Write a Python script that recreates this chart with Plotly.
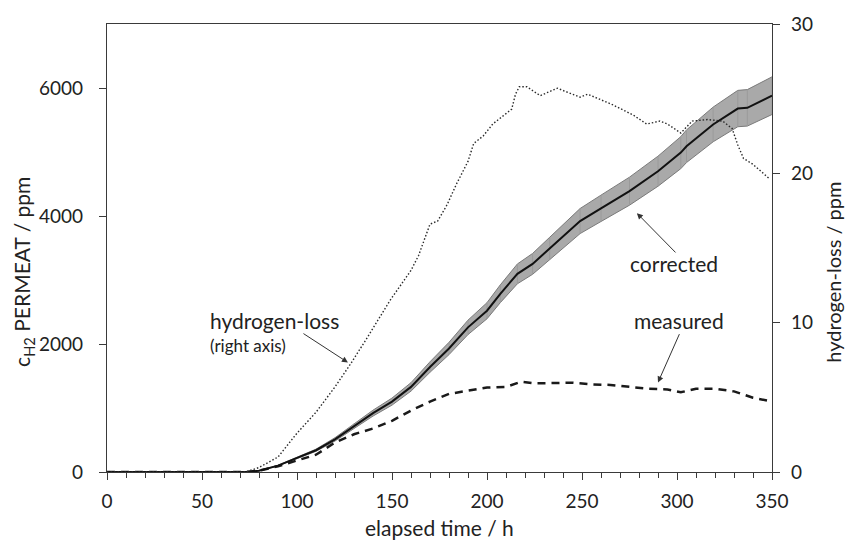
import plotly.graph_objects as go

# ---------------- data ----------------
t_corr = [0, 73, 80, 90, 100, 110, 120, 130, 140, 150, 160, 170, 180, 190, 200,
          207, 216, 224, 233, 249, 260, 275, 290, 302, 305, 319, 332, 337, 350]
corrected = [0, 0, 20, 100, 220, 340, 510, 720, 920, 1100, 1330, 1640, 1930, 2260, 2520,
             2785, 3096, 3252, 3490, 3921, 4120, 4388, 4700, 4990, 5090, 5430, 5679, 5690, 5880]
corr_err = [0, 0, 1, 5, 11, 17, 26, 36, 46, 55, 66, 82, 96, 113, 126,
            139, 155, 163, 174, 196, 206, 219, 235, 250, 255, 271, 284, 285, 294]

t_meas = [0, 73, 80, 90, 100, 110, 120, 130, 140, 150, 160, 170, 180, 190, 200, 210,
          218, 225, 235, 245, 255, 265, 275, 285, 295, 302, 310, 320, 330, 340, 350]
measured = [0, 0, 20, 90, 180, 270, 460, 590, 680, 800, 960, 1100, 1220, 1275, 1320, 1330,
            1410, 1385, 1395, 1395, 1370, 1360, 1330, 1300, 1290, 1245, 1300, 1300, 1260, 1160, 1100]

t_hloss = [0, 73, 80, 90, 100, 110, 120, 128, 137, 149, 160, 164, 170, 174, 179, 184, 190,
           193, 198, 203, 210, 213, 215, 217, 221, 228, 237, 249, 253, 266, 277, 284, 291,
           295, 302, 308, 316, 324, 329, 332, 335, 340, 349]
hloss = [0, 0, 0.3, 1.0, 2.6, 4.0, 5.7, 7.2, 9.0, 11.5, 13.5, 14.5, 16.6, 16.8, 17.9, 19.3, 20.8,
         22.0, 22.5, 23.3, 24.0, 24.3, 25.3, 25.8, 25.8, 25.2, 25.7, 25.1, 25.3, 24.6, 23.9, 23.3, 23.5,
         23.3, 22.7, 23.5, 23.6, 23.5, 23.0, 21.9, 21.0, 20.6, 19.6]

x_ticks = [0, 50, 100, 150, 200, 250, 300, 350]
y_ticks = [0, 2000, 4000, 6000]
y2_ticks = [0, 10, 20, 30]

# ---------------- figure ----------------
FONT = "Lato"
AX = "#3a3a3a"
upper = [v + e for v, e in zip(corrected, corr_err)]
lower = [v - e for v, e in zip(corrected, corr_err)]

fig = go.Figure()
fig.add_trace(go.Scatter(x=t_corr, y=upper, mode="lines",
                         line=dict(color="#7a7a7a", width=1), hoverinfo="skip", showlegend=False))
fig.add_trace(go.Scatter(x=t_corr, y=lower, mode="lines", fill="tonexty",
                         fillcolor="#a9a9a9",
                         line=dict(color="#7a7a7a", width=1), hoverinfo="skip", showlegend=False))
fig.add_trace(go.Scatter(x=t_corr, y=corrected, mode="lines",
                         line=dict(color="rgba(0,0,0,0)", width=0),
                         error_y=dict(type="data", array=corr_err, color="#9a9a9a",
                                      thickness=1, width=0),
                         showlegend=False))
fig.add_trace(go.Scatter(x=t_meas, y=measured, mode="lines",
                         line=dict(color="#1a1a1a", width=2.5, dash="8px,6px"),
                         showlegend=False))
fig.add_trace(go.Scatter(x=t_hloss, y=hloss, mode="lines", yaxis="y2",
                         line=dict(color="#2a2a2a", width=1.4, dash="1.5px,2px"),
                         showlegend=False))
fig.add_trace(go.Scatter(x=t_corr, y=corrected, mode="lines",
                         line=dict(color="#111111", width=2),
                         showlegend=False))

axis_common = dict(showgrid=False, zeroline=False, showline=True, linecolor=AX,
                   linewidth=1.3, ticks="outside", tickcolor=AX, tickwidth=1.3,
                   tickfont=dict(family=FONT, size=19, color="#222"))

fig.update_layout(
    width=846, height=545,
    margin=dict(l=107, r=74, t=22, b=73),
    paper_bgcolor="white", plot_bgcolor="white",
    font=dict(family=FONT, color="#222"),
    xaxis=dict(range=[0, 350], tickvals=x_ticks, ticklen=7, mirror=True,
               ticklabelstandoff=5,
               minor=dict(dtick=10, ticks="outside", ticklen=5, tickcolor=AX, tickwidth=1.2),
               **axis_common),
    yaxis=dict(range=[0, 7000], tickvals=y_ticks, ticklen=7, ticklabelstandoff=12,
               **axis_common),
    yaxis2=dict(range=[0, 30], tickvals=y2_ticks, ticklen=7, overlaying="y", side="right",
                ticklabelstandoff=7, **axis_common),
)

ann = []
def text(x, y, s, size=21, xanchor="center", xref="x", yref="y", angle=0):
    ann.append(dict(x=x, y=y, xref=xref, yref=yref, text=s, showarrow=False,
                    xanchor=xanchor, yanchor="middle", textangle=angle,
                    font=dict(family=FONT, size=size, color="#222")))

def arrow(x, y, ax, ay):
    ann.append(dict(x=x, y=y, ax=ax, ay=ay, xref="x", yref="y", axref="x", ayref="y",
                    text="", showarrow=True, arrowhead=2, arrowsize=1.2, arrowwidth=1,
                    arrowcolor="#333"))

text(53.2, 2364, "hydrogen-loss", xanchor="left")
text(53.2, 1976, "(right axis)", size=17, xanchor="left")
arrow(126.8, 1711, 102.6, 2178)
text(298.4, 3251, "corrected")
arrow(278.9, 4044, 300, 3407)
text(301, 2364, "measured")
arrow(290, 1400, 301.6, 2178)

text(-0.1263, 0.4467, "c<sub>H2</sub> PERMEAT / ppm", xref="paper", yref="paper", angle=-90)
text(1.0915, 0.4467, "hydrogen-loss / ppm", size=20, xref="paper", yref="paper", angle=-90)
text(0.5, -0.124, "elapsed time / h", xref="paper", yref="paper")

fig.update_layout(annotations=ann)
fig.write_html("out.html")
